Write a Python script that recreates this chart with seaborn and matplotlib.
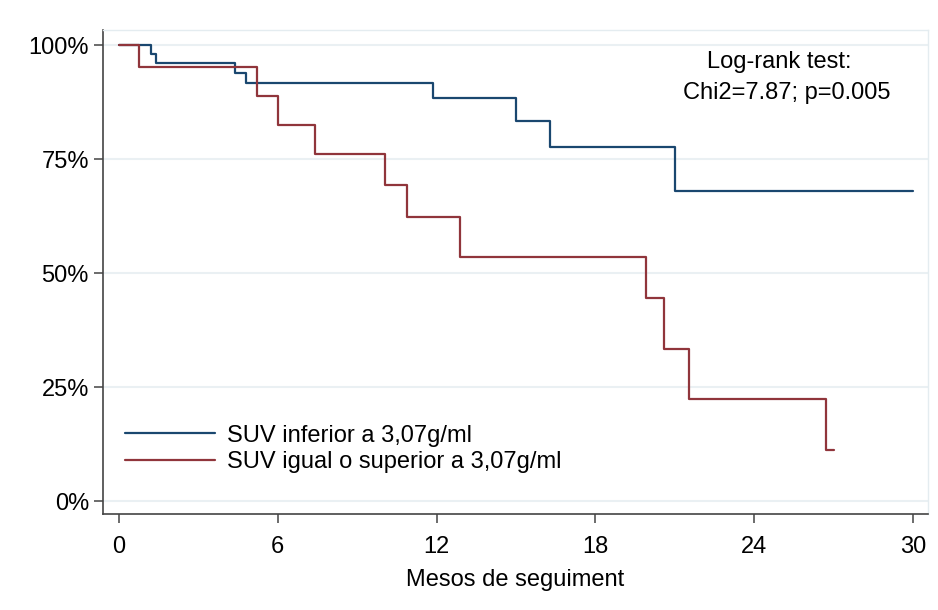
import matplotlib
matplotlib.use("Agg")
import matplotlib.pyplot as plt
import seaborn as sns
import pandas as pd
from matplotlib.ticker import FuncFormatter

# Data
group_labels = ["SUV inferior a 3,07g/ml", "SUV igual o superior a 3,07g/ml"]
times_low = [0, 1.2, 1.4, 4.4, 4.8, 11.85, 15.0, 16.3, 21.0, 30.0]
surv_low = [100, 98.0, 96.0, 93.8, 91.6, 88.4, 83.3, 77.7, 68.0, 68.0]
times_high = [0, 0.75, 5.2, 6.0, 7.4, 10.05, 10.9, 12.9, 19.9, 20.6, 21.55, 26.7, 27.0]
surv_high = [100, 95.1, 88.8, 82.5, 76.1, 69.2, 62.3, 53.4, 44.5, 33.4, 22.4, 11.2, 11.2]
x_ticks = [0, 6, 12, 18, 24, 30]
y_ticks = [0, 25, 50, 75, 100]
annot_lines = ["Log-rank test:", "Chi2=7.87; p=0.005"]

sns.set_theme(style="white")
plt.rcParams["font.family"] = ["Liberation Sans", "DejaVu Sans"]
plt.rcParams["text.color"] = "black"
plt.rcParams["axes.labelcolor"] = "black"
plt.rcParams["xtick.color"] = "black"
plt.rcParams["ytick.color"] = "black"

df = pd.concat([
    pd.DataFrame({"t": times_low, "s": surv_low, "g": group_labels[0]}),
    pd.DataFrame({"t": times_high, "s": surv_high, "g": group_labels[1]}),
], ignore_index=True)

colors = {group_labels[0]: "#1a476f", group_labels[1]: "#90353b"}

fig = plt.figure(figsize=(9.38, 6.10), dpi=100)
ax = fig.add_axes([103/938, 1-514/610, (928-103)/938, (514-30)/610])

for y in y_ticks:
    ax.axhline(y, color="#eaf0f3", lw=1.5, zorder=0)

sns.lineplot(data=df, x="t", y="s", hue="g", palette=colors, estimator=None,
             sort=False, drawstyle="steps-post", lw=1.6, ax=ax, legend=False)

ax.set_xlim(-0.6045, 30.567)
ax.set_ylim(-2.85, 103.29)
ax.set_xticks(x_ticks)
ax.set_yticks(y_ticks)
ax.yaxis.set_major_formatter(FuncFormatter(lambda v, p: f"{int(v)}%"))
ax.tick_params(axis="both", which="major", bottom=True, left=True,
               labelsize=17, length=6.5, width=1.1,
               color="#444444", labelcolor="black", direction="out")
ax.tick_params(axis="x", pad=9)
ax.tick_params(axis="y", pad=3.6)
ax.set_xlabel("Mesos de seguiment", fontsize=17, labelpad=8, color="black")
ax.set_ylabel("")

for side in ["left", "bottom"]:
    ax.spines[side].set_color("#444444")
    ax.spines[side].set_linewidth(1.2)
for side in ["top", "right"]:
    ax.spines[side].set_color("#e4ecf0")
    ax.spines[side].set_linewidth(1.0)

handles = ax.lines[-2:]
leg = ax.legend(handles, group_labels, loc="center left",
                bbox_to_anchor=(125/938, 1-449/610), bbox_transform=fig.transFigure,
                frameon=False, fontsize=17, handlelength=3.8, handletextpad=0.5,
                labelspacing=0.2, borderpad=0, borderaxespad=0)
for t in leg.get_texts():
    t.set_color("black")

ax.text(24.96, 94.96, annot_lines[0], ha="center", va="baseline", fontsize=17, color="black")
ax.text(25.22, 88.05, annot_lines[1], ha="center", va="baseline", fontsize=17, color="black")

fig.savefig("out.png", dpi=100, facecolor="white")
